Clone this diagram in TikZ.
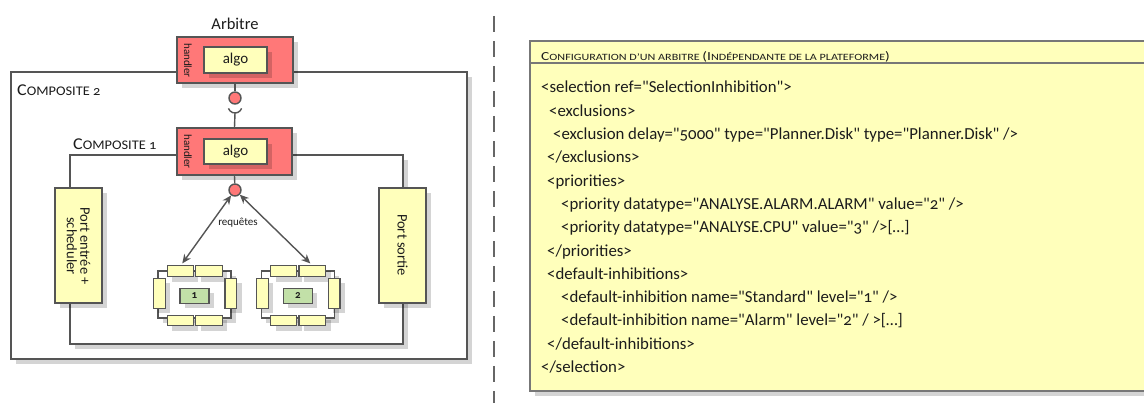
\documentclass[tikz,border=0pt]{standalone}
\usepackage{fontspec}
\newfontfamily\cf{Carlito}[Numbers=OldStyle]
\newfontfamily\cfw{Carlito}[Numbers=OldStyle, FakeStretch=1.09]
\newfontfamily\cfh{Carlito}[Numbers=OldStyle, FakeStretch=1.26]
\usetikzlibrary{arrows.meta,shadows}
\definecolor{lc}{HTML}{555555}
\definecolor{hred}{HTML}{FF7878}
\definecolor{yel}{HTML}{FFFFBB}
\definecolor{grn}{HTML}{C2E0A8}
\definecolor{txt}{HTML}{1C1C1C}
\newcommand\fs[1]{\fontsize{#1}{#1}\selectfont}
\begin{document}
\begin{tikzpicture}[x=1pt,y=-1pt,
  every node/.style={font=\cf, text=txt},
  box/.style={draw=lc, line width=1.4pt, inner sep=0pt, rectangle},
  thin box/.style={draw=lc, line width=1.1pt, inner sep=0pt, rectangle},
  shd/.style={drop shadow={shadow xshift=5pt, shadow yshift=-5pt, fill=black, opacity=0.17}},
  lnk/.style={draw=lc, line width=1.4pt},
  both tips/.style={arrows={Stealth[length=9pt,width=8pt]-Stealth[length=9pt,width=8pt]}},
  codeline/.style={anchor=base west, inner sep=0pt, font=\cf\fs{16.8}},
]
\useasboundingbox (0,0) rectangle (1144,403);

% composites
\node[box, fill=white, shd, minimum width=456pt, minimum height=287pt] (comp2) at (239,215.5) {};
\node[box, fill=white, shd, minimum width=333pt, minimum height=189pt] (comp1) at (236.5,249.5) {};
\node[anchor=base west, inner sep=0pt, font=\cfw] (lab2) at (17,96) {{\fs{16.5}C}{\fs{13.2}OMPOSITE 2}};
\node[anchor=base west, inner sep=0pt, font=\cfw] (lab1) at (73,150) {{\fs{16.5}C}{\fs{13.2}OMPOSITE 1}};

% arbitre
\node[anchor=base, inner sep=0pt, font=\cf\fs{16.5}] (arbl) at (235,29.5) {Arbitre};
\node[box, fill=hred, shd, minimum width=116pt, minimum height=46pt] (arb) at (235,60) {};
\node[box, fill=yel, shd, minimum width=63pt, minimum height=26pt, font=\cf\fs{15}] (arbalgo) at (235.5,60) {algo};
\node[rotate=-90, inner sep=0pt, font=\cf\fs{11}] (arbh) at (188,60.5) {handler};

% composite 1 handler
\node[box, fill=hred, shd, minimum width=115pt, minimum height=47pt] (h2) at (234.5,151.5) {};
\node[box, fill=yel, shd, minimum width=63pt, minimum height=25pt, font=\cf\fs{15}] (h2algo) at (235.5,151.5) {algo};
\node[rotate=-90, inner sep=0pt, font=\cf\fs{11}] (h2h) at (188,151.5) {handler};

% lollipop / socket
\node[circle, draw=lc, line width=1.4pt, fill=hred, minimum size=12pt, inner sep=0pt] (c1) at (235,98) {};
\draw[lnk] (arb.south) -- (c1);
\coordinate (sock) at (235,106);
\coordinate (sockb) at (235,113);
\draw[lnk] (sock) ++(6.6,2.4) arc[start angle=20, end angle=160, radius=7];
\draw[lnk] (sockb) -- (h2.north);

\node[circle, draw=lc, line width=1.4pt, fill=hred, minimum size=12pt, inner sep=0pt] (c2) at (235,190) {};
\draw[lnk] (h2.south) -- (c2);

% ports
\node[box, fill=yel, shd, minimum width=47pt, minimum height=115pt] (pin) at (78.5,245.5) {};
\node[rotate=-90, align=center, inner sep=0pt, font=\cf\fs{14.5}, text=txt] (pinl) at (78.5,246) {Port entrée +\\[-1pt]scheduler};
\node[box, fill=yel, shd, minimum width=47pt, minimum height=115pt] (pout) at (402.5,245.5) {};
\node[rotate=-90, inner sep=0pt, font=\cf\fs{14.5}] (poutl) at (402.5,245) {Port sortie};

% components
\foreach \i/\dx in {1/0, 2/103.3} {
  \begin{scope}[xshift=\dx pt]
    \node[thin box, fill=white, shd, minimum width=73pt, minimum height=47pt] (f\i) at (194.5,294.5) {};
    \node[thin box, fill=yel, shd, minimum width=26pt, minimum height=10.7pt] (t\i a) at (180.3,271.3) {};
    \node[thin box, fill=yel, shd, minimum width=26.6pt, minimum height=10.7pt] (t\i b) at (209,271.3) {};
    \node[thin box, fill=yel, shd, minimum width=26pt, minimum height=10.7pt] (b\i a) at (180.3,320.5) {};
    \node[thin box, fill=yel, shd, minimum width=26.6pt, minimum height=10.7pt] (b\i b) at (209,320.5) {};
    \node[thin box, fill=yel, shd, minimum width=11.7pt, minimum height=30pt] (l\i) at (159.2,293.3) {};
    \node[thin box, fill=yel, shd, minimum width=11.7pt, minimum height=30pt] (r\i) at (230.8,293.3) {};
    \node[thin box, fill=grn, shd, minimum width=29pt, minimum height=15pt, font=\cf\fs{11}\bfseries] (g\i) at (194.5,295.8) {\i};
  \end{scope}
}

% requests
\draw[lnk, both tips] (c2) -- ([xshift=2pt,yshift=2pt]t1a.north);
\draw[lnk, both tips] (c2) -- ([xshift=-2pt,yshift=2pt]t2b.north);
\node[font=\cf\fs{11}] (req) at (238,223) {requêtes};

% separator
\draw[draw=lc!90, line width=2pt, dash pattern=on 16pt off 9pt] (494,16) -- (494,403);

% configuration box
\node[box, line width=1.2pt, draw=lc!80, fill=yel, shd, minimum width=640pt, minimum height=350pt] (cfg) at (850,216) {};
\node[box, line width=1.2pt, draw=lc!80, fill=yel, minimum width=640pt, minimum height=22pt] (cfgh) at (850,52) {};
\node[anchor=base west, inner sep=0pt, font=\cfh] (cfgt) at (541,61) {{\fs{12.3}C}{\fs{9.6}ONFIGURATION D’UN ARBITRE }{\fs{12.3}(I}{\fs{9.6}NDÉPENDANTE DE LA PLATEFORME}{\fs{12.3})}};

\node[codeline] (k1) at (541,93) {<selection ref="SelectionInhibition">};
\node[codeline] (k2) at (549,116.3) {<exclusions>};
\node[codeline] (k3) at (553,139.6) {<exclusion delay="5000" type="Planner.Disk" type="Planner.Disk" />};
\node[codeline] (k4) at (547,162.9) {</exclusions>};
\node[codeline] (k5) at (547,186.2) {<priorities>};
\node[codeline] (k6) at (561,209.5) {<priority datatype="ANALYSE.ALARM.ALARM" value="2" />};
\node[codeline] (k7) at (561,232.8) {<priority datatype="ANALYSE.CPU" value="3" />[…]};
\node[codeline] (k8) at (547,256.1) {</priorities>};
\node[codeline] (k9) at (547,279.4) {<default-inhibitions>};
\node[codeline] (k10) at (561,302.7) {<default-inhibition name="Standard" level="1" />};
\node[codeline] (k11) at (561,326) {<default-inhibition name="Alarm" level="2" / >[…]};
\node[codeline] (k12) at (547,349.3) {</default-inhibitions>};
\node[codeline] (k13) at (541,372.6) {</selection>};
\end{tikzpicture}
\end{document}
